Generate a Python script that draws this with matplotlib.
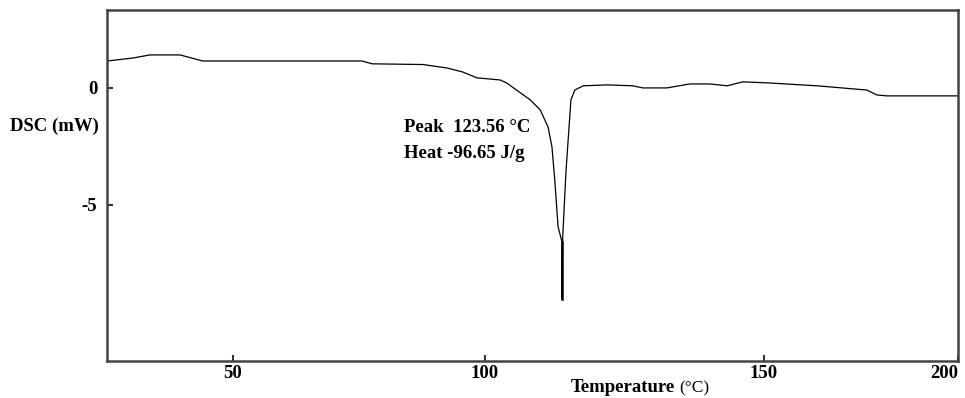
"""DSC heating curve with the melting endotherm annotated."""

import matplotlib
matplotlib.use("Agg")
import matplotlib.pyplot as plt
import numpy as np

# temperature axis is not uniform on the instrument printout: map each
# labelled temperature to its position along the axis (0 = left edge)
AXIS_TEMPS = [25, 50, 100, 150, 200]
AXIS_POS = [0, 126, 378, 657, 851]

temperature = [25, 30.2, 33.5, 39.5, 44.0, 50, 75.6, 77.6, 87.7, 92.5, 95.6,
               98.4, 102.7, 103.9, 108.1, 109.9, 111.3, 112.0, 112.5, 113.1,
               113.8, 113.8, 113.9, 114.5, 114.9, 115.4, 116.1, 117.6, 121.9,
               126.5, 128.3, 132.6, 136.7, 140.3, 143.4, 146.2, 151.5, 163.7,
               176.5, 179.1, 181.7, 200]
dsc_mw = [1.15, 1.28, 1.41, 1.41, 1.15, 1.15, 1.15, 1.03, 1.00, 0.85, 0.68,
          0.43, 0.34, 0.21, -0.51, -0.94, -1.67, -2.52, -3.93, -5.94,
          -6.58, -9.0, -6.5, -3.63, -2.22, -0.51, -0.09, 0.09, 0.13,
          0.09, 0.0, 0.0, 0.17, 0.17, 0.09, 0.26, 0.21, 0.09,
          -0.09, -0.30, -0.34, -0.34]

x_ticks = [50, 100, 150, 200]
y_ticks = [0, -5]
peak_label = "Peak  123.56 \u00b0C"
heat_label = "Heat -96.65 J/g"


def to_pos(t):
    return np.interp(t, AXIS_TEMPS, AXIS_POS, left=-1e9, right=1e9)


def to_temp(p):
    return np.interp(p, AXIS_POS, AXIS_TEMPS)


plt.rcParams["font.family"] = ["Liberation Serif", "DejaVu Serif"]
plt.rcParams["axes.unicode_minus"] = False
FS = 13.5

fig = plt.figure(figsize=(9.65, 3.98), dpi=100)
ax = fig.add_axes([107 / 965, 1 - 361 / 398, 851 / 965, 351 / 398])
ax.set_xscale("function", functions=(to_pos, to_temp))

ax.plot(temperature, dsc_mw, color="black", lw=0.9)
# the trace is drawn heavier through the bottom of the endotherm
ax.plot(temperature[20:22], dsc_mw[20:22], color="black", lw=1.8)

ax.set_xlim(25, 200)
ax.set_ylim(-11.67, 3.33)
ax.set_xticks(x_ticks)
ax.set_yticks(y_ticks)
ax.minorticks_off()
ax.tick_params(direction="in", length=4, width=1.5, color="#333333",
               labelsize=FS)
ax.tick_params(axis="x", pad=3)
ax.tick_params(axis="y", pad=7)
for lab in ax.get_xticklabels() + ax.get_yticklabels():
    lab.set_fontweight("bold")
ax.get_xticklabels()[-1].set_horizontalalignment("right")
for sp in ax.spines.values():
    sp.set_linewidth(1.8)
    sp.set_color("#444444")

fig.text(10 / 965, 1 - 126 / 398, "DSC (mW)", fontsize=FS,
         fontweight="bold", va="center", ha="left")
fig.text(675 / 965, 1 - 388 / 398, "Temperature", fontsize=FS,
         fontweight="bold", va="center", ha="right")
fig.text(679 / 965, 1 - 388 / 398, "(\u00b0C)", fontsize=FS - 1,
         va="center", ha="left")

fig.text(404 / 965, 1 - 127 / 398, peak_label, fontsize=FS,
         fontweight="bold", va="center", ha="left")
fig.text(404 / 965, 1 - 153 / 398, heat_label, fontsize=FS,
         fontweight="bold", va="center", ha="left")

fig.savefig("out.png", dpi=100, facecolor="white")
